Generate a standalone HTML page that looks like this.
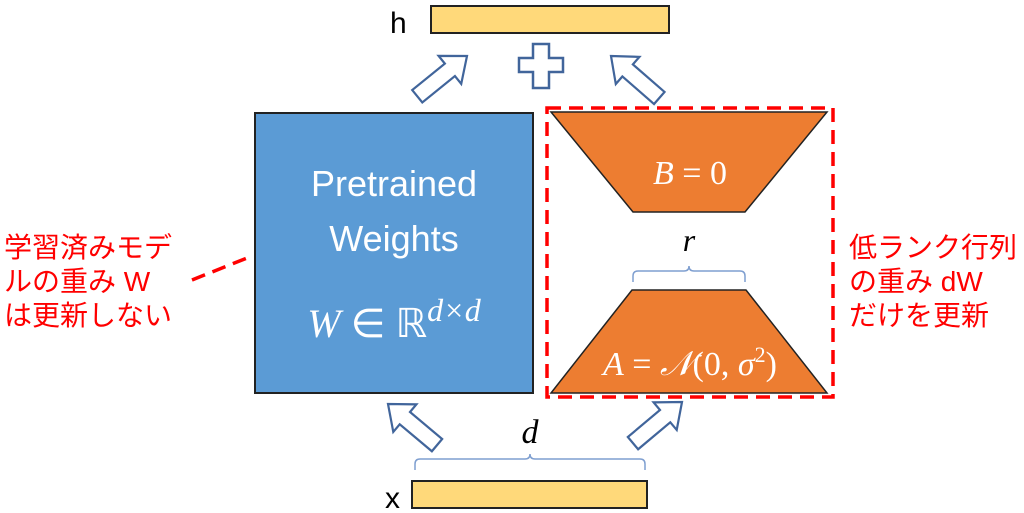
<!DOCTYPE html>
<html><head><meta charset="utf-8"><style>
html,body{margin:0;padding:0;background:#fff;}
svg{display:block}
</style></head><body>
<svg width="1024" height="513" viewBox="0 0 1024 513" xmlns="http://www.w3.org/2000/svg">
<defs>
<polygon id="arr" points="0,0 18,22 8,22 8,64 -8,64 -8,22 -18,22" fill="#fff" stroke="#41659b" stroke-width="2.2" stroke-linejoin="miter"/>
</defs>
<text x="390" y="33" font-family="Liberation Sans, sans-serif" font-size="30" fill="#000">h</text>
<rect x="431" y="6" width="238" height="27" fill="#ffd97a" stroke="#222" stroke-width="2"/>
<path d="M533,44 h16 v14 h14 v14 h-14 v16 h-16 v-16 h-14 v-14 h14 z" fill="#fff" stroke="#41659b" stroke-width="2.5"/>
<use href="#arr" transform="translate(467,56) rotate(51)"/>
<use href="#arr" transform="translate(611,56) rotate(-49)"/>
<use href="#arr" transform="translate(388,404) rotate(-50)"/>
<use href="#arr" transform="translate(682,402) rotate(50)"/>
<rect x="255" y="113" width="278" height="280" fill="#5b9bd5" stroke="#222" stroke-width="2"/>
<text x="394" y="196" text-anchor="middle" font-family="Liberation Sans, sans-serif" font-size="36" fill="#fff">Pretrained</text>
<text x="394" y="251" text-anchor="middle" font-family="Liberation Sans, sans-serif" font-size="36" fill="#fff">Weights</text>
<text x="394" y="337" text-anchor="middle" font-family="Liberation Serif, serif" font-size="40" fill="#fff"><tspan font-style="italic">W</tspan> ∈ ℝ<tspan font-style="italic" font-size="32" dy="-16">d×d</tspan></text>
<rect x="547" y="108" width="286" height="289" fill="none" stroke="#ff0000" stroke-width="3.5" stroke-dasharray="14,8"/>
<polygon points="551,112 827,112 745,212 633,212" fill="#ed7d31" stroke="#222" stroke-width="1.5"/>
<text x="690" y="184" text-anchor="middle" font-family="Liberation Serif, serif" font-size="34" fill="#fff"><tspan font-style="italic">B</tspan> = 0</text>
<polygon points="632,290 746,290 827,393 551,393" fill="#ed7d31" stroke="#222" stroke-width="1.5"/>
<text x="690" y="375" text-anchor="middle" font-family="Liberation Serif, serif" font-size="34" fill="#fff"><tspan font-style="italic">A</tspan> = <tspan font-style="italic">𝒩</tspan>(0, <tspan font-style="italic">σ</tspan><tspan font-size="22" dy="-13">2</tspan><tspan dy="13">)</tspan></text>
<text x="689" y="251" text-anchor="middle" font-family="Liberation Serif, serif" font-style="italic" font-size="32" fill="#000">r</text>
<path d="M633,282 v-6 q0,-5 5,-5 h46 q5,0 5,-5 q0,5 5,5 h46 q5,0 5,5 v6" fill="none" stroke="#7f9fd0" stroke-width="1.5"/>
<text x="530" y="443" text-anchor="middle" font-family="Liberation Serif, serif" font-style="italic" font-size="34" fill="#000">d</text>
<path d="M415,470 v-6 q0,-5 5,-5 h105 q5,0 5,-5 q0,5 5,5 h105 q5,0 5,5 v6" fill="none" stroke="#7f9fd0" stroke-width="1.5"/>
<text x="385" y="508" font-family="Liberation Sans, sans-serif" font-size="30" fill="#000">x</text>
<rect x="412" y="481" width="235" height="27" fill="#ffd97a" stroke="#222" stroke-width="2"/>
<line x1="192" y1="280" x2="252" y2="256" stroke="#ff0000" stroke-width="3.5" stroke-dasharray="14,8"/>
<g font-family="Liberation Sans, 'Noto Sans CJK JP', sans-serif" font-size="28" fill="#ff0000">
<text x="4" y="257">学習済みモデ</text>
<text x="4" y="291">ルの重み W</text>
<text x="4" y="325">は更新しない</text>
<text x="849" y="257">低ランク行列</text>
<text x="849" y="291">の重み dW</text>
<text x="849" y="325">だけを更新</text>
</g>
</svg>
</body></html>
